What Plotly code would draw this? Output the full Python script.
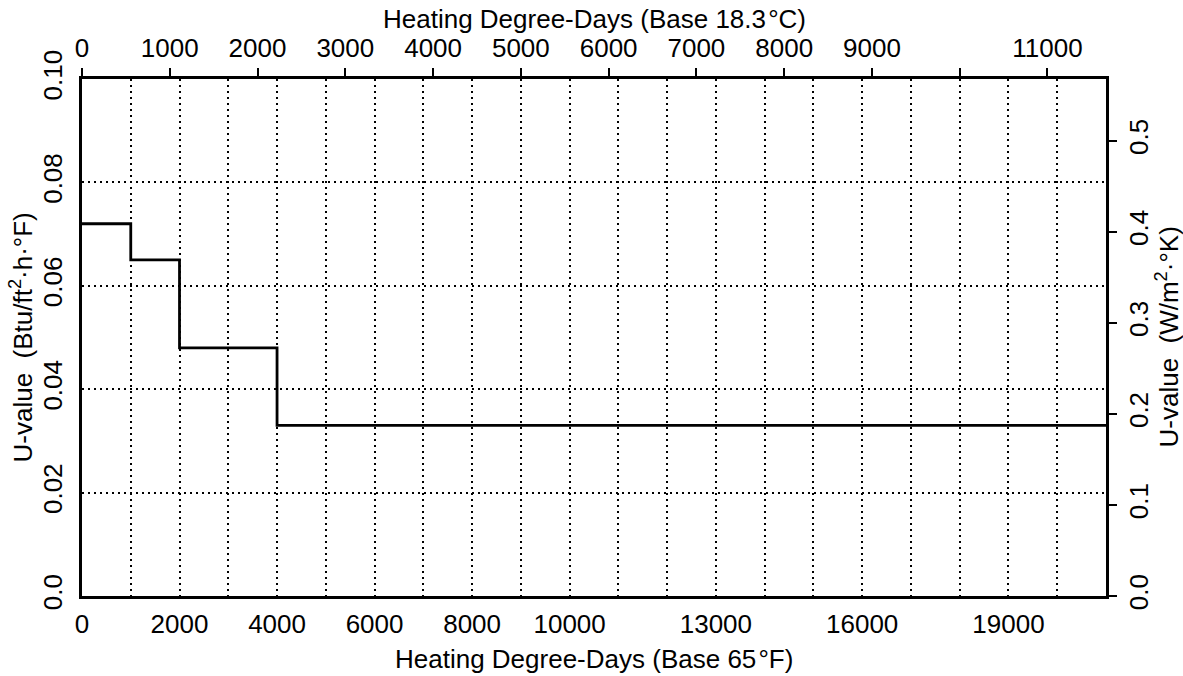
import plotly.graph_objects as go

# ---- data ----
hdd_f_steps = [0, 1000, 2000, 4000, 21000]
u_ip_steps = [0.072, 0.065, 0.048, 0.033, 0.033]

bottom_tick_labels = [0, 2000, 4000, 6000, 8000, 10000, 13000, 16000, 19000]
bottom_grid_step = 1000
bottom_max = 21000

top_tick_labels_c = [0, 1000, 2000, 3000, 4000, 5000, 6000, 7000, 8000, 9000, 11000]
top_unlabelled_ticks_c = [10000]

left_tick_values = [0.0, 0.02, 0.04, 0.06, 0.08, 0.10]
left_tick_labels = ["0.0", "0.02", "0.04", "0.06", "0.08", "0.10"]
left_max = 0.10

right_tick_values = [0.0, 0.1, 0.2, 0.3, 0.4, 0.5]
right_tick_labels = ["0.0", "0.1", "0.2", "0.3", "0.4", "0.5"]

bottom_title = "Heating Degree-Days (Base 65\u200a\u00b0F)"
top_title = "Heating Degree-Days (Base 18.3\u200a\u00b0C)"
left_title = "U-value  (Btu/ft<sup>2</sup>\u00b7h\u00b7\u00b0F)"
right_title = "U-value  (W/m<sup>2</sup>\u00b7\u00b0K)"

F_PER_C = 1.8          # degree-day conversion
SI_PER_IP = 5.678      # Btu/ft2.h.F -> W/m2.K

FONT = "Liberation Sans, Arial, Helvetica, sans-serif"
FS = 26

fig = go.Figure()
fig.add_trace(go.Scatter(x=hdd_f_steps, y=u_ip_steps, mode="lines", line_shape="hv",
                         line=dict(color="black", width=2.8), showlegend=False,
                         hoverinfo="skip"))
# invisible trace to activate secondary axes
fig.add_trace(go.Scatter(x=[0], y=[0], xaxis="x2", yaxis="y2", mode="markers",
                         marker=dict(opacity=0), showlegend=False, hoverinfo="skip"))

dot = "2px,4px"
grid_style = dict(gridcolor="black", gridwidth=2, griddash=dot)

fig.update_layout(
    width=1183, height=676,
    margin=dict(l=82, r=77, t=79, b=80),
    paper_bgcolor="white", plot_bgcolor="white",
    font=dict(family=FONT, size=FS, color="black"),
    xaxis=dict(range=[0, bottom_max], tickmode="array",
               tickvals=bottom_tick_labels, ticktext=[str(v) for v in bottom_tick_labels],
               automargin=False, showgrid=True, **grid_style,
               minor=dict(tick0=0, dtick=bottom_grid_step, showgrid=True, ticks="",
                          **grid_style),
               zeroline=False, showline=True, linecolor="black", linewidth=3,
               mirror=True, ticks="", tickangle=0, ticklabelstandoff=3,
               tickfont=dict(size=FS)),
    xaxis2=dict(overlaying="x", side="top", range=[0, bottom_max / F_PER_C],
                automargin=False, tickmode="array",
                tickvals=top_tick_labels_c, ticktext=[str(v) for v in top_tick_labels_c],
                minor=dict(tickmode="array", tickvals=top_unlabelled_ticks_c,
                           ticks="outside", ticklen=10, tickwidth=1.8, tickcolor="black",
                           showgrid=False),
                showgrid=False, zeroline=False, showline=False,
                ticks="outside", ticklen=10, tickwidth=1.8, tickcolor="black",
                tickangle=0, ticklabelstandoff=1,
                tickfont=dict(size=FS)),
    yaxis=dict(range=[0, left_max], tickvals=left_tick_values, ticktext=left_tick_labels,
               automargin=False, showgrid=True, **grid_style,
               zeroline=False, showline=True, linecolor="black", linewidth=3,
               mirror=True, ticks="", tickangle=-90, ticklabelstandoff=7,
               tickfont=dict(size=FS)),
    yaxis2=dict(overlaying="y", side="right", range=[0, left_max * SI_PER_IP],
                automargin=False,
                tickvals=right_tick_values, ticktext=right_tick_labels,
                showgrid=False, zeroline=False, showline=False,
                ticks="outside", ticklen=10, tickwidth=1.8, tickcolor="black",
                tickangle=-90, ticklabelstandoff=0,
                tickfont=dict(size=FS)),
    annotations=[
        dict(text=bottom_title, xref="paper", yref="paper", x=0.5, y=0,
             xanchor="center", yanchor="middle", yshift=-63, showarrow=False,
             font=dict(size=FS)),
        dict(text=top_title, xref="paper", yref="paper", x=0.5, y=1,
             xanchor="center", yanchor="middle", yshift=60, showarrow=False,
             font=dict(size=FS)),
        dict(text=left_title, xref="paper", yref="paper", x=0, y=0.5,
             xanchor="center", yanchor="middle", xshift=-60, textangle=-90,
             showarrow=False, font=dict(size=FS)),
        dict(text=right_title, xref="paper", yref="paper", x=1, y=0.5,
             xanchor="center", yanchor="middle", xshift=62, textangle=-90,
             showarrow=False, font=dict(size=FS)),
    ],
)

fig.write_html("out.html", config={"displayModeBar": False},
               post_script="document.body.style.margin='0';document.body.style.overflow='hidden';")
